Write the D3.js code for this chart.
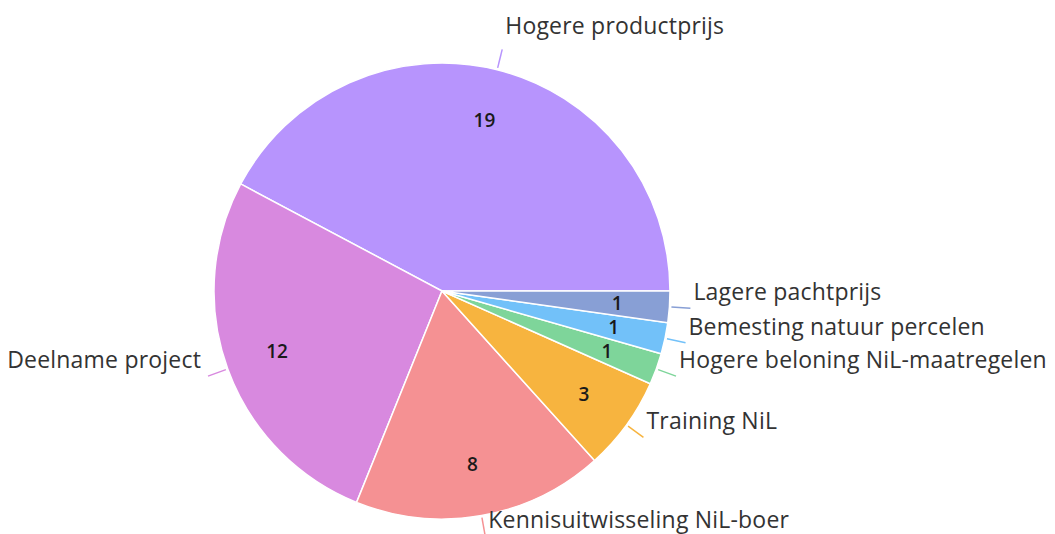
<!DOCTYPE html>
<html>
<head>
<meta charset="utf-8">
<script src="https://cdn.jsdelivr.net/npm/d3@7"></script>
<style>
  body { margin: 0; background: #fff; }
  svg text { font-family: "Open Sans", "Noto Sans", sans-serif; }
</style>
</head>
<body>
<svg id="chart" width="1055" height="534"></svg>
<script>
const categories = ["Hogere productprijs", "Deelname project", "Kennisuitwisseling NiL-boer",
  "Training NiL", "Hogere beloning NiL-maatregelen", "Bemesting natuur percelen", "Lagere pachtprijs"];
const counts = [19, 12, 8, 3, 1, 1, 1];
const colors = ["#b794fd", "#d889df", "#f59193", "#f7b43f", "#7ed59a", "#72c1f9", "#889fd5"];

const width = 1055, height = 534,
    cx = 442, cy = 291,
    r = 228;

const data = categories.map((c, i) => ({label: c, value: counts[i], color: colors[i]}));

const svg = d3.select("#chart");
const g = svg.append("g").attr("transform", "translate(" + cx + "," + cy + ")");

// counterclockwise, starting at 3 o'clock
const pie = d3.pie().sort(null).value(d => d.value)
    .startAngle(Math.PI / 2)
    .endAngle(Math.PI / 2 - 2 * Math.PI);
const arcs = pie(data);

const arc = d3.arc().innerRadius(0).outerRadius(r);
const valueArc = d3.arc().innerRadius(r * 0.77).outerRadius(r * 0.77);

g.selectAll("path.slice")
  .data(arcs)
  .join("path")
  .attr("class", "slice")
  .attr("d", arc)
  .attr("fill", d => d.data.color)
  .attr("stroke", "#fff")
  .attr("stroke-width", 1.5);

g.selectAll("text.value")
  .data(arcs)
  .join("text")
  .attr("class", "value")
  .attr("transform", d => "translate(" + valueArc.centroid(d) + ")")
  .attr("text-anchor", "middle")
  .attr("dy", "0.36em")
  .style("font-size", "19px")
  .style("font-weight", "600")
  .style("fill", "#1a1a1a")
  .text(d => d.data.value);

// leader ticks + labels
function dir(d) {
  const a = (d.startAngle + d.endAngle) / 2;
  return [Math.sin(a), -Math.cos(a)];
}

g.selectAll("line.leader")
  .data(arcs)
  .join("line")
  .attr("class", "leader")
  .attr("x1", d => dir(d)[0] * (r + 2))
  .attr("y1", d => dir(d)[1] * (r + 2))
  .attr("x2", d => dir(d)[0] * (r + 21))
  .attr("y2", d => dir(d)[1] * (r + 21))
  .attr("stroke", d => d.data.color)
  .attr("stroke-width", 1.5);

g.selectAll("text.label")
  .data(arcs)
  .join("text")
  .attr("class", "label")
  .attr("x", d => {
    const [ux] = dir(d);
    return ux * (r + 21) + (ux >= 0 ? 3 : -7);
  })
  .attr("y", d => {
    const [, uy] = dir(d);
    return uy * (r + 21) - 8 - 8 * Math.pow(Math.max(0, -uy), 4);
  })
  .attr("text-anchor", d => dir(d)[0] >= 0 ? "start" : "end")
  .style("font-size", "23px")
  .style("letter-spacing", "0.2px")
  .style("fill", "#333")
  .text(d => d.data.label);
</script>
</body>
</html>
